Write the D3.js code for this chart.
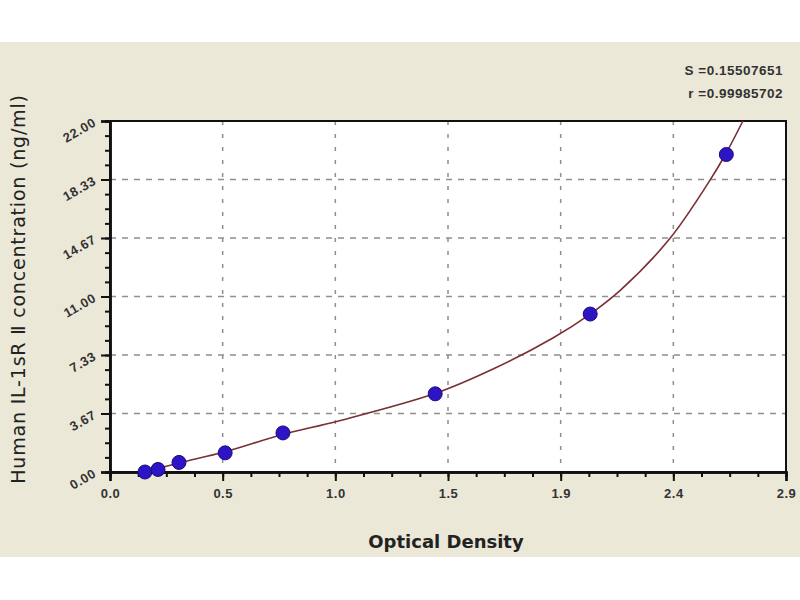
<!DOCTYPE html>
<html>
<head>
<meta charset="utf-8">
<script src="https://cdn.jsdelivr.net/npm/d3@7"></script>
<style>
  body { margin: 0; background: #fff; }
</style>
</head>
<body>
<div id="chart"></div>
<script>
// standard points (optical density vs concentration)
var odValues = [0.15, 0.206, 0.296, 0.494, 0.742, 1.395, 2.06, 2.644];
var concValues = [0.0, 0.16, 0.6, 1.2, 2.45, 4.9, 9.9, 19.9];

// fitted curve
var curveOd = [0.15, 0.30, 0.49, 0.74, 0.98, 1.40, 1.65, 1.90, 2.06, 2.19, 2.40, 2.57, 2.64, 2.715];
var curveConc = [0.0, 0.58, 1.25, 2.35, 3.2, 4.95, 6.5, 8.4, 9.9, 11.4, 14.6, 18.2, 19.9, 22.0];

// tick labels
var xTicks = [0, 2.9 / 6, 2.9 * 2 / 6, 2.9 * 3 / 6, 2.9 * 4 / 6, 2.9 * 5 / 6, 2.9];
var xTickLabels = ["0.0", "0.5", "1.0", "1.5", "1.9", "2.4", "2.9"];
var yTicks = [0, 22 / 6, 22 * 2 / 6, 22 * 3 / 6, 22 * 4 / 6, 22 * 5 / 6, 22];
var yTickLabels = ["0.00", "3.67", "7.33", "11.00", "14.67", "18.33", "22.00"];

var statLines = ["S =0.15507651", "r =0.99985702"];

var width = 800, height = 600;
var margin = { top: 121, right: 14, bottom: 128, left: 110 };
var innerW = width - margin.left - margin.right,
    innerH = height - margin.top - margin.bottom;

var svg = d3.select("#chart").append("svg")
  .attr("width", width)
  .attr("height", height)
  .style("font-family", "'Liberation Sans', Arial, sans-serif");

// beige panel
svg.append("rect")
  .attr("x", 0).attr("y", 42)
  .attr("width", width).attr("height", 515)
  .attr("fill", "#ebe8d8");

var g = svg.append("g")
  .attr("transform", "translate(" + margin.left + "," + margin.top + ")");

var x = d3.scaleLinear().domain([0, 2.9]).range([0, innerW]);
var y = d3.scaleLinear().domain([0, 22]).range([innerH, 0]);

// plot background
g.append("rect")
  .attr("width", innerW).attr("height", innerH)
  .attr("fill", "#fff");

// grid lines
g.selectAll(".hgrid").data(yTicks.slice(1, -1)).enter().append("line")
  .attr("class", "hgrid")
  .attr("x1", 0).attr("x2", innerW)
  .attr("y1", function (d) { return y(d); })
  .attr("y2", function (d) { return y(d); })
  .attr("stroke", "#8f8f8f")
  .attr("stroke-width", 1.5)
  .attr("stroke-dasharray", "6,6");

g.selectAll(".vgrid").data(xTicks.slice(1, -1)).enter().append("line")
  .attr("class", "vgrid")
  .attr("y1", 0).attr("y2", innerH)
  .attr("x1", function (d) { return x(d); })
  .attr("x2", function (d) { return x(d); })
  .attr("stroke", "#8f8f8f")
  .attr("stroke-width", 1.5)
  .attr("stroke-dasharray", "4,9");

// frame (top and right)
g.append("rect")
  .attr("width", innerW).attr("height", innerH)
  .attr("fill", "none")
  .attr("stroke", "#111")
  .attr("stroke-width", 2);

// minor ticks
var xMinor = d3.range(0, 25).map(function (i) { return 2.9 * i / 24; });
var yMinor = d3.range(0, 25).map(function (i) { return 22 * i / 24; });

var xAxisMinor = d3.axisBottom(x).tickValues(xMinor).tickSize(5).tickFormat("");
var yAxisMinor = d3.axisLeft(y).tickValues(yMinor).tickSize(5).tickFormat("");

g.append("g")
  .attr("class", "x-minor")
  .attr("transform", "translate(0," + innerH + ")")
  .call(xAxisMinor);
g.append("g")
  .attr("class", "y-minor")
  .call(yAxisMinor);

// major axes
var xAxis = d3.axisBottom(x)
  .tickValues(xTicks)
  .tickSize(9)
  .tickPadding(8)
  .tickFormat(function (d, i) { return xTickLabels[i]; });

var yAxis = d3.axisLeft(y)
  .tickValues(yTicks)
  .tickSize(9)
  .tickPadding(6)
  .tickFormat(function (d, i) { return yTickLabels[i]; });

var xg = g.append("g")
  .attr("class", "x-axis")
  .attr("transform", "translate(0," + innerH + ")")
  .call(xAxis);

var yg = g.append("g")
  .attr("class", "y-axis")
  .call(yAxis);

g.selectAll(".x-axis path, .y-axis path, .x-minor path, .y-minor path")
  .attr("stroke", "#111")
  .attr("stroke-width", 2.5);
g.selectAll(".tick line").attr("stroke", "#111").attr("stroke-width", 2);

xg.selectAll("text")
  .style("font-family", "'Liberation Sans', Arial, sans-serif")
  .attr("font-size", 13)
  .attr("font-weight", "bold")
  .attr("letter-spacing", 0.5)
  .attr("fill", "#333");

yg.selectAll("text")
  .style("font-family", "'Liberation Sans', Arial, sans-serif")
  .attr("font-size", 13)
  .attr("font-weight", "bold")
  .attr("letter-spacing", 0.6)
  .attr("fill", "#333")
  .attr("text-anchor", "end")
  .attr("dy", "0.32em")
  .attr("transform", "rotate(-30,-15,0)");

// fitted curve
var curvePts = curveOd.map(function (d, i) { return [d, curveConc[i]]; });
var line = d3.line()
  .x(function (d) { return x(d[0]); })
  .y(function (d) { return y(d[1]); })
  .curve(d3.curveCatmullRom.alpha(0.5));

g.append("path")
  .datum(curvePts)
  .attr("d", line)
  .attr("fill", "none")
  .attr("stroke", "#7a2f33")
  .attr("stroke-width", 1.6);

// standard points
g.selectAll(".dot").data(odValues).enter().append("circle")
  .attr("class", "dot")
  .attr("cx", function (d) { return x(d); })
  .attr("cy", function (d, i) { return y(concValues[i]); })
  .attr("r", 7)
  .attr("fill", "#2d14c4")
  .attr("stroke", "#1a0a7a")
  .attr("stroke-width", 1);

// axis titles
svg.append("text")
  .attr("x", 446).attr("y", 548)
  .attr("text-anchor", "middle")
  .style("font-family", "'DejaVu Sans', sans-serif")
  .attr("font-size", 18)
  .attr("font-weight", "bold")
  .attr("fill", "#222")
  .text("Optical Density");

svg.append("text")
  .attr("transform", "translate(25,289) rotate(-90)")
  .attr("text-anchor", "middle")
  .style("font-family", "'DejaVu Sans', sans-serif")
  .attr("font-size", 19)
  .attr("letter-spacing", 0.8)
  .attr("fill", "#222")
  .text("Human IL-1sR Ⅱ concentration (ng/ml)");

// fit statistics
svg.selectAll(".stat").data(statLines).enter().append("text")
  .attr("class", "stat")
  .attr("x", 783)
  .attr("y", function (d, i) { return 75 + i * 23; })
  .attr("text-anchor", "end")
  .attr("font-size", 13.5)
  .attr("font-weight", "bold")
  .attr("letter-spacing", 0.5)
  .attr("fill", "#333")
  .text(function (d) { return d; });
</script>
</body>
</html>
